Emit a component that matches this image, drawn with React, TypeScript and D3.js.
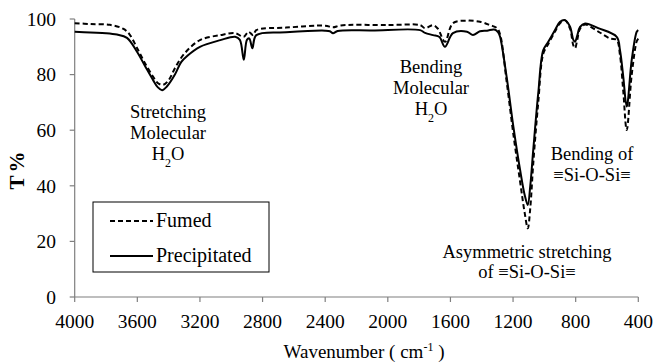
import React from "react";
import * as d3 from "d3";

const xTicks = [4000, 3600, 3200, 2800, 2400, 2000, 1600, 1200, 800, 400];
const yTicks = [0, 20, 40, 60, 80, 100];

const precipitated: [number, number][] = [
  [4000, 95.4], [3900, 95.1], [3800, 94.9], [3730, 94.4], [3666, 93.2], [3602, 88.2],
  [3550, 83.0], [3500, 78.1], [3470, 75.5], [3442, 74.4], [3410, 75.8], [3359, 80.1],
  [3320, 84.5], [3280, 86.8], [3200, 90.0], [3070, 92.4], [2975, 93.6], [2945, 92.5],
  [2920, 85.3], [2900, 92.5], [2885, 93.0], [2865, 89.5], [2840, 94.2], [2650, 95.2],
  [2400, 95.8], [2370, 95.6], [2350, 94.9], [2320, 95.7], [2100, 95.9], [1794, 96.0],
  [1762, 95.0], [1711, 94.2], [1670, 93.5], [1635, 90.0], [1584, 94.9], [1494, 95.4],
  [1456, 94.2], [1411, 95.6], [1366, 95.8], [1320, 96.2], [1295, 95.2], [1283, 93.6],
  [1241, 79.2], [1198, 61.3], [1155, 45.7], [1125, 36.5], [1106, 33.1], [1090, 40],
  [1071, 52.9], [1039, 73.3], [1007, 88.8], [975, 91.8], [932, 96.0], [900, 99.0],
  [868, 99.6], [836, 97.2], [815, 92.5], [804, 91.8], [790, 94], [772, 97.2], [740, 98.4],
  [656, 96.7], [538, 93.6], [517, 88.8], [496, 79.2], [474, 68.5], [442, 85.3],
  [410, 95.4], [400, 96.0],
];

const fumed: [number, number][] = [
  [4000, 98.5], [3900, 98.2], [3775, 97.9], [3691, 96.5], [3650, 94.5], [3602, 89.6],
  [3550, 84.0], [3500, 79.3], [3470, 77.0], [3436, 76.3], [3400, 78.0], [3359, 82.4],
  [3300, 87.5], [3200, 92.4], [3070, 94.2], [2975, 94.9], [2920, 93.6], [2890, 95.4],
  [2860, 94.2], [2840, 96.0], [2650, 96.9], [2400, 97.6], [2350, 97.0], [2300, 97.7],
  [2000, 97.8], [1794, 97.8], [1762, 96.7], [1711, 97.8], [1680, 96.5], [1635, 91.8],
  [1584, 98.5], [1494, 99.4], [1411, 99.0], [1347, 97.8], [1302, 96.7], [1283, 94.5],
  [1241, 77.5], [1198, 58.5], [1155, 41.5], [1125, 30.0], [1106, 24.7], [1090, 32.0],
  [1071, 48.0], [1039, 70.0], [1007, 87.5], [975, 91.0], [932, 95.5], [900, 98.5],
  [868, 99.5], [836, 96.5], [815, 90.5], [804, 89.5], [790, 92.5], [772, 96.5],
  [740, 98.0], [656, 95.5], [581, 93.0], [538, 92.5], [517, 87.0], [496, 74.0],
  [474, 60.1], [442, 80.0], [410, 92.0], [400, 93.0],
];

const W = 654;
const H = 363;
const font = '"Liberation Serif", "Times New Roman", serif';

export default function App() {
  const x = d3.scaleLinear().domain([4000, 400]).range([74.7, 638.3]);
  const y = d3.scaleLinear().domain([0, 100]).range([297, 19]);
  const line = d3
    .line<[number, number]>()
    .x((d) => x(d[0]))
    .y((d) => y(d[1]))
    .curve(d3.curveCatmullRom.alpha(0.5));

  const axisColor = "#7f7f7f";
  const ts = { fontFamily: font, fontSize: "18.5px" };
  const tick = { fontFamily: font, fontSize: "19.5px" };
  const annot = { style: ts, fill: "#000", textAnchor: "middle" as const };

  return (
    <svg
      width={W}
      height={H}
      style={{ position: "absolute", left: 0, top: 0, background: "#fff", fontFamily: font }}
    >
      {/* axes */}
      <line x1={x(4000)} x2={x(400)} y1={y(0)} y2={y(0)} stroke={axisColor} strokeWidth={1.2} />
      <line x1={x(4000)} x2={x(4000)} y1={y(0)} y2={y(100)} stroke={axisColor} strokeWidth={1.2} />
      {xTicks.map((t) => (
        <g key={"x" + t}>
          <line x1={x(t)} x2={x(t)} y1={y(0)} y2={y(0) + 5} stroke={axisColor} strokeWidth={1.2} />
          <text x={x(t)} y={328} style={tick} textAnchor="middle" fill="#000">
            {t}
          </text>
        </g>
      ))}
      {yTicks.map((t) => (
        <g key={"y" + t}>
          <line x1={x(4000) - 5} x2={x(4000)} y1={y(t)} y2={y(t)} stroke={axisColor} strokeWidth={1.2} />
          <text x={56} y={y(t)} dy="0.35em" style={tick} textAnchor="end" fill="#000">
            {t}
          </text>
        </g>
      ))}

      {/* axis titles */}
      <text
        transform={`translate(24,169) rotate(-90)`}
        style={{ fontFamily: font, fontSize: "21px", fontWeight: "bold", letterSpacing: "3px" }}
        textAnchor="middle"
        fill="#000"
      >
        T%
      </text>
      <text x={364} y={358} style={{ fontFamily: font, fontSize: "19px" }} textAnchor="middle" fill="#000">
        Wavenumber ( cm
        <tspan baselineShift="super" style={{ fontSize: "12px" }}>-1</tspan>
        {"  )"}
      </text>

      {/* curves */}
      <path d={line(fumed) || ""} fill="none" stroke="#000" strokeWidth={2} strokeDasharray="5,3" />
      <path d={line(precipitated) || ""} fill="none" stroke="#000" strokeWidth={2} />

      {/* legend */}
      <rect x={93} y={202} width={176} height={70} fill="#fff" stroke="#000" strokeWidth={1} />
      <line x1={110} x2={153} y1={221} y2={221} stroke="#000" strokeWidth={2} strokeDasharray="5,3" />
      <line x1={110} x2={153} y1={256} y2={256} stroke="#000" strokeWidth={2} />
      <text x={156} y={227} style={{ fontFamily: font, fontSize: "20px" }} fill="#000">Fumed</text>
      <text x={156} y={262} style={{ fontFamily: font, fontSize: "20px" }} fill="#000">Precipitated</text>

      {/* annotations */}
      <text {...annot} x={168} y={118}>Stretching</text>
      <text {...annot} x={168} y={139}>Molecular</text>
      <text {...annot} x={168} y={160}>
        H<tspan baselineShift="sub" style={{ fontSize: "12px" }}>2</tspan>O
      </text>

      <text {...annot} x={431} y={73}>Bending</text>
      <text {...annot} x={431} y={94}>Molecular</text>
      <text {...annot} x={431} y={115}>
        H<tspan baselineShift="sub" style={{ fontSize: "12px" }}>2</tspan>O
      </text>

      <text {...annot} x={592} y={160}>Bending of</text>
      <text {...annot} x={592} y={181}>≡Si-O-Si≡</text>

      <text {...annot} x={527} y={258}>Asymmetric stretching</text>
      <text {...annot} x={527} y={278}>of  ≡Si-O-Si≡</text>
    </svg>
  );
}
